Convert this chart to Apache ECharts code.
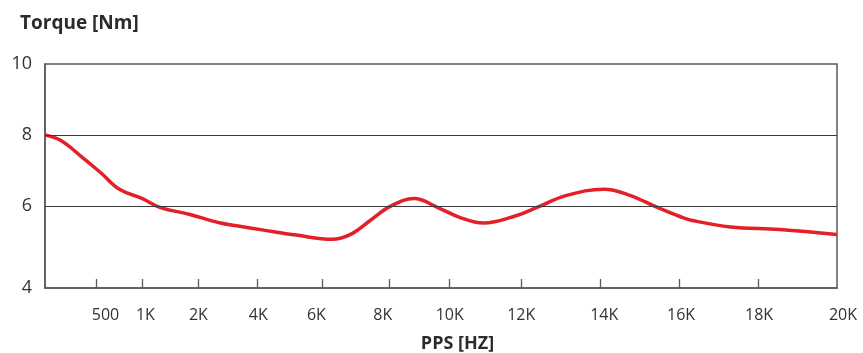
<!DOCTYPE html>
<html>
<head>
<meta charset="utf-8">
<script src="https://cdn.jsdelivr.net/npm/echarts@6/dist/echarts.min.js"></script>
<style>
  html, body { margin: 0; padding: 0; background: #fff; }
  #chart { width: 863px; height: 353px; }
</style>
</head>
<body>
<div id="chart"></div>
<script>
// frequency axis ticks (the printed axis is not linear, so each tick has its own spot)
const tickHz = [0, 500, 1000, 2000, 4000, 6000, 8000, 10000, 12000, 14000, 16000, 18000, 20000];
const tickLabels = ['', '500', '1K', '2K', '4K', '6K', '8K', '10K', '12K', '14K', '16K', '18K', '20K'];
const tickPos = [0, 0.065, 0.123, 0.1937, 0.2681, 0.3502, 0.4341, 0.5098, 0.6013, 0.701, 0.8006, 0.9003, 1];
// labels are not exactly centred under their ticks in the original (px)
const labelNudge = [0, 9, 3, 0, 1, -6, -6, 1, 0, 4, 2, 1, 6];

// torque curve
const pps = [0, 150, 350, 550, 750, 1000, 1300, 1850, 2750, 3400, 4200, 5200, 6300, 6850, 7450,
    8050, 8850, 9600, 10300, 10950, 11900, 12400, 13150, 14100, 14750, 15450, 16050,
    16300, 17300, 18550, 20000];
const torque = [8.0, 7.85, 7.40, 6.93, 6.47, 6.21, 5.97, 5.76, 5.52, 5.43, 5.32, 5.18, 5.06, 5.20, 5.60,
    5.99, 6.21, 5.97, 5.68, 5.52, 5.74, 5.96, 6.30, 6.47, 6.30, 5.96, 5.69,
    5.60, 5.41, 5.34, 5.20];

const yTicks = [6, 8, 10];
const yBottom = 3.69; // printed as "4" at the bottom edge

function toPos(hz) {
    for (let i = 1; i < tickHz.length; i++) {
        if (hz <= tickHz[i]) {
            const t = (hz - tickHz[i - 1]) / (tickHz[i] - tickHz[i - 1]);
            return tickPos[i - 1] + t * (tickPos[i] - tickPos[i - 1]);
        }
    }
    return 1;
}

const font = "'Open Sans', 'DejaVu Sans', sans-serif";
const rich = {};
labelNudge.forEach((d, i) => {
    rich['n' + i] = {
        fontFamily: font, fontSize: 16, color: '#333',
        padding: d >= 0 ? [0, 0, 0, 2 * d] : [0, -2 * d, 0, 0]
    };
});

const chart = echarts.init(document.getElementById('chart'));

chart.setOption({
    animation: false,
    title: {
        text: 'Torque [Nm]',
        left: 15,
        top: 9,
        textStyle: { fontFamily: font, fontSize: 19, fontWeight: 'bold', color: '#2b2b2b' }
    },
    grid: {
        left: 45, right: 26, top: 64, bottom: 65,
        outerBoundsMode: 'none',
        containLabel: false,
        show: true,
        borderColor: '#58595b',
        borderWidth: 1.5
    },
    xAxis: {
        type: 'value',
        min: 0,
        max: 1,
        name: 'PPS [HZ]',
        nameLocation: 'middle',
        nameGap: 47,
        nameTextStyle: {
            fontFamily: font, fontSize: 18, fontWeight: 'bold', color: '#2b2b2b',
            padding: [0, 0, 0, 33]
        },
        axisLine: { show: true, lineStyle: { color: '#58595b', width: 1.5 } },
        axisTick: {
            show: true,
            inside: true,
            length: 9,
            customValues: tickPos.slice(1, -1),
            lineStyle: { color: '#58595b', width: 1.3 }
        },
        axisLabel: {
            customValues: tickPos.slice(1),
            formatter: v => {
                const i = tickPos.indexOf(v);
                return '{n' + i + '|' + tickLabels[i] + '}';
            },
            rich: rich,
            margin: 19,
            fontFamily: font,
            fontSize: 16,
            color: '#333'
        },
        splitLine: { show: false }
    },
    yAxis: {
        type: 'value',
        min: yBottom,
        max: 10,
        axisLine: { show: true, lineStyle: { color: '#58595b', width: 1.5 } },
        axisTick: { show: false },
        axisLabel: {
            customValues: [yBottom].concat(yTicks),
            formatter: v => (v === yBottom ? '4' : String(v)),
            margin: 13,
            fontFamily: font,
            fontSize: 18,
            color: '#333'
        },
        splitLine: { show: false }
    },
    series: [{
        type: 'line',
        data: pps.map((h, i) => [toPos(h), torque[i]]),
        smooth: 0.4,
        symbol: 'none',
        lineStyle: { color: '#e31f28', width: 3.5 },
        markLine: {
            silent: true,
            symbol: 'none',
            label: { show: false },
            lineStyle: { color: '#3a3a3a', width: 1.2, type: 'solid' },
            data: yTicks.slice(0, 2).map(v => ({ yAxis: v }))
        },
        z: 3
    }]
});
</script>
</body>
</html>
